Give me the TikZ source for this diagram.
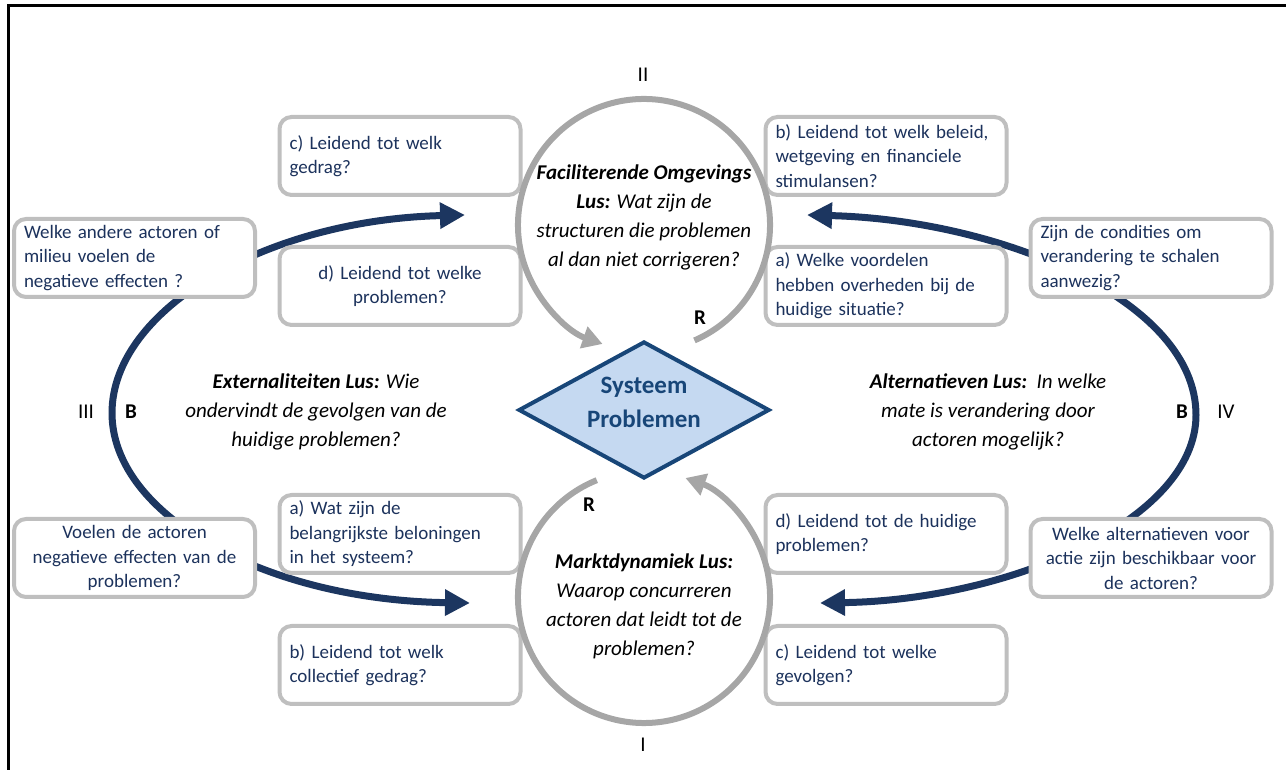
\documentclass[tikz,border=0pt]{standalone}
\usepackage{fontspec}
\setmainfont{Carlito}
\usetikzlibrary{arrows.meta,shapes.geometric}
\definecolor{tekstblauw}{RGB}{28,50,92}
\definecolor{pijlblauw}{RGB}{28,54,96}
\definecolor{randgrijs}{RGB}{191,191,191}
\definecolor{cirkelgrijs}{RGB}{166,166,166}
\definecolor{ruitblauw}{RGB}{24,70,120}
\definecolor{ruitvul}{RGB}{197,217,241}
\tikzset{
	vraag/.style={draw=randgrijs, line width=4pt, rounded corners=12pt, fill=white, text=tekstblauw,
		minimum height=78pt, text width=221pt, inner xsep=10pt, align=left, font=\fontsize{19}{24.5}\selectfont},
	vraagmidden/.style={vraag, align=center},
	lus/.style={align=center, font=\fontsize{21}{29}\selectfont\itshape},
	teken/.style={font=\fontsize{21}{25}\selectfont},
	blauwpijl/.style={draw=pijlblauw, line width=7pt, {Triangle[length=25pt,width=25pt]}-{Triangle[length=25pt,width=25pt]}},
	grijspijl/.style={draw=cirkelgrijs, line width=6pt, -{Triangle[length=20pt,width=22pt]}}
}
\begin{document}
\begin{tikzpicture}[x=1pt,y=1pt]
	\useasboundingbox (0,0) rectangle (1286,770);
	\draw[line width=3pt] (8,0) -- (8,764) -- (1286,764);
	% balancerende lussen
	\coordinate (extboven) at (465,555);
	\coordinate (extmidden) at (112,357);
	\coordinate (extonder) at (470,167);
	\coordinate (altboven) at (807,555);
	\coordinate (altmidden) at (1196,355);
	\coordinate (altonder) at (820,167);
	\draw[blauwpijl] (extonder) .. controls (265,170) and (112,255) .. (extmidden) .. controls (112,460) and (265,550) .. (extboven);
	\draw[blauwpijl] (altonder) .. controls (1010,170) and (1196,250) .. (altmidden) .. controls (1196,470) and (1000,550) .. (altboven);
	% vragen
	\node[vraag] (wa) at (134.5,512) {Welke andere actoren of\\milieu voelen de\\negatieve effecten ?};
	\node[vraagmidden] (vo) at (134.5,212) {Voelen de actoren\\negatieve effecten van de\\problemen?};
	\node[vraag] (zc) at (1151,512) {Zijn de condities om\\verandering te schalen\\aanwezig?};
	\node[vraagmidden] (wal) at (1151,212) {Welke alternatieven voor\\actie zijn beschikbaar voor\\de actoren?};
	\node[vraag] (lc) at (400,614) {c) Leidend tot welk\\gedrag?};
	\node[vraagmidden] (ld) at (400,484) {d) Leidend tot welke\\problemen?};
	\node[vraag] (la) at (400,236) {a) Wat zijn de\\belangrijkste beloningen\\in het systeem?};
	\node[vraag] (lb) at (400,105) {b) Leidend tot welk\\collectief gedrag?};
	\node[vraag] (rb) at (886,614) {b) Leidend tot welk beleid,\\wetgeving en financiele\\stimulansen?};
	\node[vraag] (ra) at (886,484) {a) Welke voordelen\\hebben overheden bij de\\huidige situatie?};
	\node[vraag] (rd) at (886,236) {d) Leidend tot de huidige\\problemen?};
	\node[vraag] (rc) at (886,105) {c) Leidend tot welke\\gevolgen?};
	% versterkende lussen
	\coordinate (ctop) at (644,545);
	\coordinate (cbot) at (644,173);
	\draw[grijspijl] ([shift={(-66.4:126pt)}]ctop) arc[start angle=-66.4, end angle=250.8, radius=126pt];
	\draw[grijspijl] ([shift={(112:126pt)}]cbot) arc[start angle=112, end angle=430.8, radius=126pt];
	\node[diamond, draw=ruitblauw, fill=ruitvul, line width=4pt, aspect=1.83, minimum width=251pt, minimum height=137pt,
		inner sep=0pt, text depth=16pt, text=ruitblauw, align=center, font=\bfseries\fontsize{25}{34}\selectfont] (sys) at (644,360) {Systeem\\Problemen};
	\node[lus] (tfac) at (644,553) {\textbf{Faciliterende Omgevings}\\\textbf{Lus:} Wat zijn de\\structuren die problemen\\al dan niet corrigeren?};
	\node[lus] (tmarkt) at (644,164) {\textbf{Marktdynamiek Lus:}\\Waarop concurreren\\actoren dat leidt tot de\\problemen?};
	\node[lus] (text) at (316,358) {\textbf{Externaliteiten Lus:} Wie\\ondervindt de gevolgen van de\\huidige problemen?};
	\node[lus] (talt) at (988,358) {\textbf{Alternatieven Lus:}\ \ In welke\\mate is verandering door\\actoren mogelijk?};
	\node[teken] (nII) at (643,695) {II};
	\node[teken] (nI) at (643,25) {I};
	\node[teken] (nIII) at (86,358) {III};
	\node[teken] (nIV) at (1226,358) {IV};
	\node[teken, font=\bfseries\fontsize{21}{25}\selectfont] (bl) at (131,358) {B};
	\node[teken, font=\bfseries\fontsize{21}{25}\selectfont] (br) at (1182,358) {B};
	\node[teken, font=\bfseries\fontsize{21}{25}\selectfont] (rtop) at (700,452) {R};
	\node[teken, font=\bfseries\fontsize{21}{25}\selectfont] (rbot) at (589,265) {R};
\end{tikzpicture}
\end{document}
